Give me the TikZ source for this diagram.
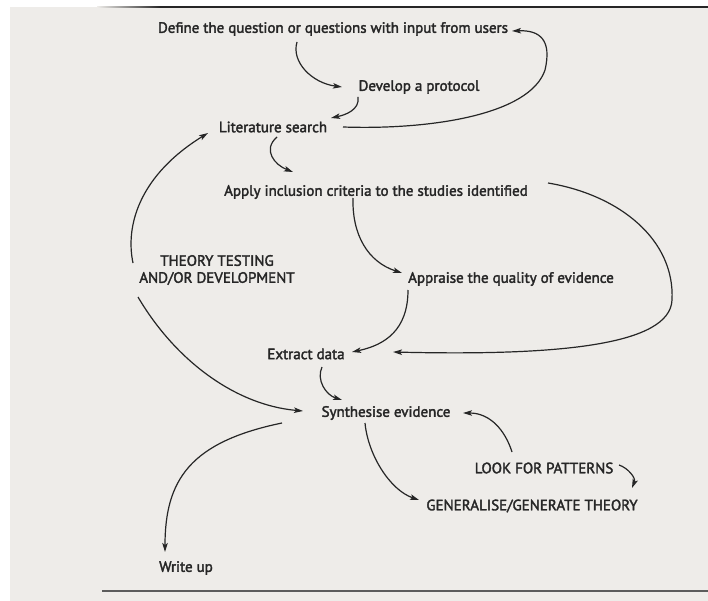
\documentclass[tikz,border=0pt]{standalone}
\usepackage{fontspec}
\newfontfamily\labelfont{PT Sans}[RawFeature={embolden=2.2}]
\usetikzlibrary{arrows.meta,calc}
\definecolor{paper}{HTML}{EEECE9}
\definecolor{ink}{HTML}{262626}
\begin{document}
\begin{tikzpicture}[x=1pt,y=-1pt,
  step label/.style={text=ink,font=\labelfont\fontsize{15}{17}\selectfont,inner sep=1pt,align=center},
  flow/.style={draw=ink,line width=1.2pt,-{Stealth[length=9pt,width=5.5pt,inset=2pt]}},
  rule/.style={draw=ink,line width=1.8pt}]
  % page and its margins
  \useasboundingbox (0,0) rectangle (708,601);
  \fill[white] (0,0) rectangle (708,601);
  \fill[paper] (10,7) rectangle (708,601);
  \shade[left color=paper,right color=ink] (97,6.1) rectangle (160,7.9);
  \draw[rule] (160,7) -- (708,7);
  \draw[rule,draw=ink!75] (102,591) -- (708,591);

  % steps of the review
  \node[step label] (def) at (333,29) {Define the question or questions with input from users};
  \node[step label] (dev) at (419,87) {Develop a protocol};
  \node[step label] (lit) at (273,127) {Literature search};
  \node[step label] (app) at (376,192) {Apply inclusion criteria to the studies identified};
  \node[step label] (theory) at (217,270) {THEORY TESTING\\AND/OR DEVELOPMENT};
  \node[step label] (appr) at (511,279) {Appraise the quality of evidence};
  \node[step label] (ext) at (306,354) {Extract data};
  \node[step label] (syn) at (386,413) {Synthesise evidence};
  \node[step label] (look) at (544,468) {LOOK FOR PATTERNS};
  \node[step label] (gen) at (532,506) {GENERALISE/GENERATE THEORY};
  \node[step label] (write) at (186,568) {Write up};

  % connectors
  \draw[flow] ($(def)+(-36,13)$) .. controls (291,62) and (312,83) .. ($(dev)+(-77,0)$);
  \draw[flow] ($(dev)+(-61,10)$) .. controls (360,110) and (345,115) .. ($(lit)+(58,-9)$);
  \draw[flow] ($(lit)+(70,0)$) .. controls (430,130) and (530,115) .. (545,70)
              .. controls (552,40) and (540,30) .. ($(def)+(179,2)$);
  \draw[flow] ($(lit)+(4,10)$) .. controls (262,150) and (275,165) .. ($(app)+(-83,-20)$);
  \draw[flow] ($(app)+(172,-9)$) .. controls (620,195) and (675,240) .. (672,300)
              .. controls (670,345) and (560,356) .. ($(ext)+(87,-2)$);
  \draw[flow] ($(app)+(-23,6)$) .. controls (352,235) and (368,262) .. ($(appr)+(-109,-6)$);
  \draw[flow] ($(appr)+(-103,11)$) .. controls (408,330) and (385,345) .. ($(ext)+(46,-2)$);
  \draw[flow] ($(ext)+(16,13)$) .. controls (316,380) and (326,395) .. ($(syn)+(-44,-13)$);
  \draw[flow] ($(theory)+(-79,27)$) .. controls (175,360) and (235,405) .. ($(syn)+(-83,-2)$);
  \draw[flow] ($(theory)+(-84,-7)$) .. controls (125,225) and (140,175) .. ($(lit)+(-65,6)$);
  \draw[flow] ($(syn)+(-21,10)$) .. controls (368,455) and (390,490) .. ($(gen)+(-113,-6)$);
  \draw[flow] ($(look)+(-32,-16)$) .. controls (505,430) and (490,413) .. ($(syn)+(77,0)$);
  \draw[flow] ($(look)+(75,-3)$) .. controls (628,468) and (636,478) .. ($(gen)+(100,-18)$);
  \draw[flow] ($(syn)+(-104,10)$) .. controls (190,442) and (165,480) .. ($(write)+(-21,-16)$);
\end{tikzpicture}
\end{document}
